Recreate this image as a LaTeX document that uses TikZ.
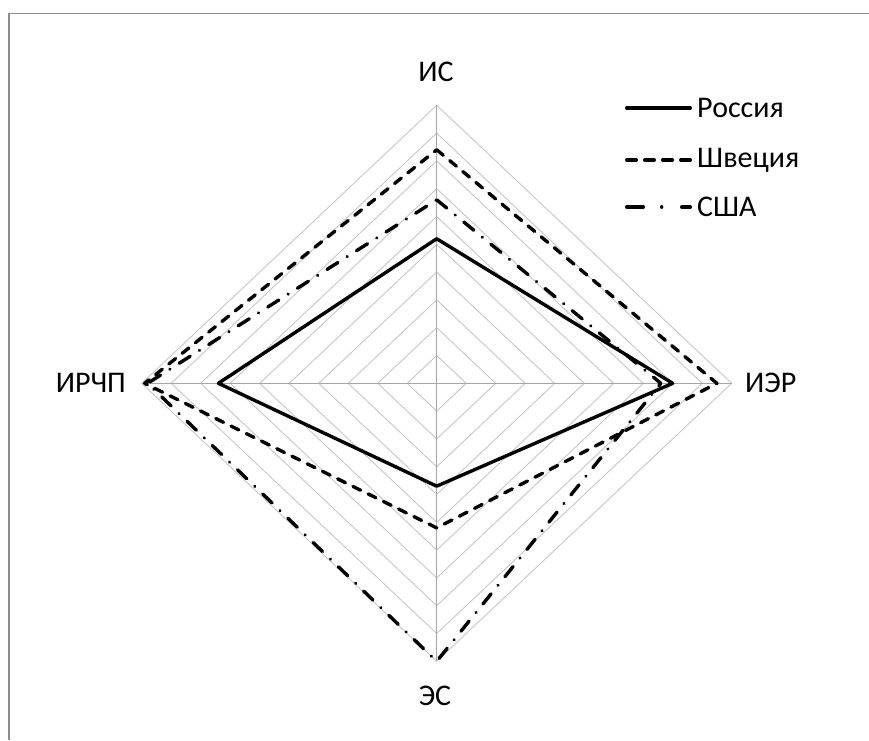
\documentclass[tikz,border=0pt]{standalone}
\usepackage{fontspec}
\setmainfont{Carlito}
\begin{document}
\begin{tikzpicture}[x=1pt,y=-1pt,
  gridline/.style={draw=black!22,line width=0.9pt},
  axisline/.style={draw=black!35,line width=0.9pt},
  ser/.style={line width=3.4pt,line join=round},
  russia/.style={ser},
  sweden/.style={ser,line cap=round,dash pattern=on 8.6pt off 8.4pt},
  usa/.style={ser,line cap=round,dash pattern=on 13pt off 11pt on 0.01pt off 11pt},
  lbl/.style={font=\fontsize{30}{35}\selectfont,inner sep=0pt},
  frameline/.style={draw=black!45,line width=1.4pt}]
\useasboundingbox (0,0) rectangle (869,740);
\fill[white] (0,0) rectangle (869,740);
\draw[frameline] (9,740) -- (9,13.5) -- (869,13.5);
\def\cx{436.7}\def\cy{383.3}\def\rx{29.5}\def\ry{27.8}
\coordinate (c) at (\cx,\cy);
% grid
\foreach \k in {1,...,10}{
  \draw[gridline] (\cx,\cy-\k*\ry) -- (\cx+\k*\rx,\cy) -- (\cx,\cy+\k*\ry) -- (\cx-\k*\rx,\cy) -- cycle;
}
\coordinate (vt) at (\cx,\cy-10*\ry);
\coordinate (vr) at (\cx+10*\rx,\cy);
\coordinate (vb) at (\cx,\cy+10*\ry);
\coordinate (vl) at (\cx-10*\rx,\cy);
\draw[axisline] (c) -- (vt);
\draw[axisline] (c) -- (vr);
\draw[axisline] (c) -- (vb);
\draw[axisline] (c) -- (vl);
% series
\draw[russia] (\cx,\cy-5.2*\ry) -- (\cx+8.0*\rx,\cy) -- (\cx,\cy+3.7*\ry) -- (\cx-7.4*\rx,\cy) -- cycle;
\draw[sweden] (\cx,\cy-8.4*\ry) -- (\cx+9.5*\rx,\cy) -- (\cx,\cy+5.2*\ry) -- (\cx-9.9*\rx,\cy) -- cycle;
\draw[usa] (\cx,\cy-6.6*\ry) -- (\cx+7.6*\rx,\cy) -- (\cx,\cy+10*\ry) -- (\cx-9.8*\rx,\cy) -- cycle;
% axis labels
\node[lbl] (is) at (436,71.5) {ИС};
\node[lbl,anchor=west] (ier) at (745,383) {ИЭР};
\node[lbl,anchor=east] (irchp) at (126,383) {ИРЧП};
\node[lbl] (es) at (435,696) {ЭС};
% legend
\coordinate (l1a) at (626.7,108); \coordinate (l1b) at (690.3,108);
\coordinate (l2a) at (626.7,160); \coordinate (l2b) at (690.3,160);
\coordinate (l3a) at (626.7,207); \coordinate (l3b) at (690.3,207);
\draw[russia,line cap=round] (l1a) -- (l1b);
\draw[sweden,dash pattern=on 9.6pt off 8.4pt] (l2a) -- (l2b);
\draw[usa,dash pattern=on 16.6pt off 18.4pt on 0.01pt off 20pt] (l3a) -- (l3b);
\node[lbl,anchor=west] (t1) at (697,108) {Россия};
\node[lbl,anchor=west] (t2) at (697,160) {Швеция};
\node[lbl,anchor=west] (t3) at (697,207) {США};
\end{tikzpicture}
\end{document}
